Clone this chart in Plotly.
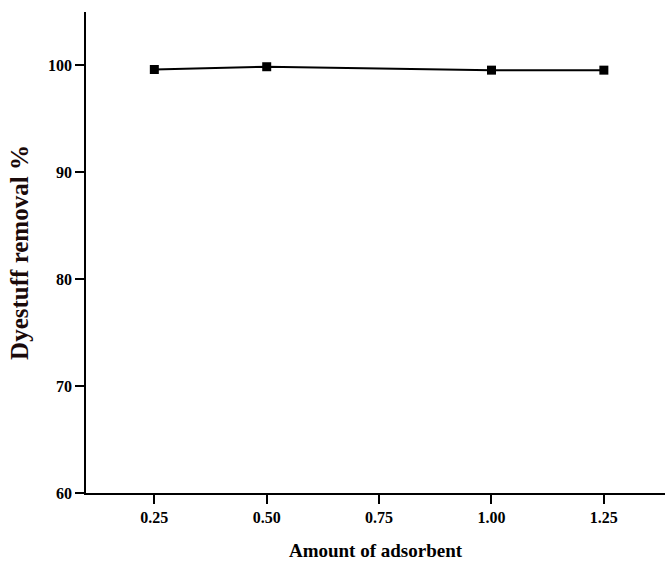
import plotly.graph_objects as go

# Adsorbent dose vs. dye removal
amount = [0.25, 0.50, 1.00, 1.25]
removal = [99.62, 99.88, 99.56, 99.56]
x_ticks = [0.25, 0.50, 0.75, 1.00, 1.25]
x_tick_text = ["0.25", "0.50", "0.75", "1.00", "1.25"]
y_ticks = [60, 70, 80, 90, 100]

font_family = "Liberation Serif"

fig = go.Figure()
fig.add_trace(go.Scatter(
    x=amount, y=removal, mode="lines+markers",
    line=dict(color="black", width=2),
    marker=dict(symbol="square", size=9, color="black"),
    showlegend=False,
))

fig.update_layout(
    width=665, height=564,
    margin=dict(l=86, r=0, t=12, b=71),
    paper_bgcolor="white", plot_bgcolor="white",
    font=dict(family=font_family, color="black"),
)
fig.update_xaxes(
    range=[0.098, 1.386],
    tickvals=x_ticks, ticktext=x_tick_text,
    ticks="outside", ticklen=9, tickwidth=1.5, tickcolor="black",
    showline=True, linecolor="black", linewidth=1.5,
    showgrid=False, zeroline=False,
    tickfont=dict(size=16, family=font_family, weight="bold"),
    title=dict(text="<b>Amount of adsorbent</b>", font=dict(size=19), standoff=19),
)
fig.update_yaxes(
    range=[60, 105],
    tickvals=y_ticks,
    ticks="outside", ticklen=9, tickwidth=1.5, tickcolor="black",
    showline=True, linecolor="black", linewidth=1.5,
    showgrid=False, zeroline=False,
    tickfont=dict(size=16, family=font_family, weight="bold"),
    title=dict(text="<b>Dyestuff removal %</b>", font=dict(size=25, color="#1a0a0a"), standoff=12),
)

fig.write_html("out.html")
